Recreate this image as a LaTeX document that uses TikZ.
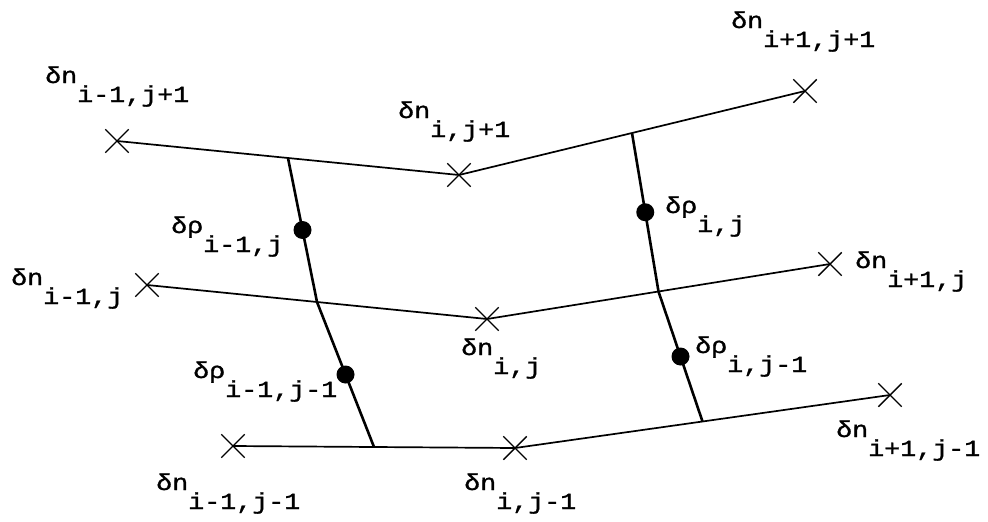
\documentclass[tikz,border=0pt]{standalone}
\usepackage{fontspec}
\newfontfamily\labfont[FakeStretch=1.16,FakeBold=1.2]{Liberation Mono}
\usetikzlibrary{shapes.misc,calc}
\tikzset{
  xmark/.style={cross out,draw,minimum size=22pt,inner sep=0pt,line width=1.4pt},
  rowline/.style={line width=1.7pt},
  colline/.style={line width=2.6pt},
  dotmark/.style={circle,fill=black,minimum size=18pt,inner sep=0pt},
  lab/.style={anchor=base west,inner sep=0pt,font=\labfont\fontsize{23}{27}\selectfont}
}
\newcommand{\sbx}[1]{\raisebox{-19pt}{#1}}
\begin{document}
\begin{tikzpicture}[x=1pt,y=-1pt]
\useasboundingbox (0,0) rectangle (988,522);
% crosses
\node[xmark] (a1) at (117,141) {};
\node[xmark] (a2) at (459,175) {};
\node[xmark] (a3) at (805,91) {};
\node[xmark] (b1) at (147,285) {};
\node[xmark] (b2) at (487,319) {};
\node[xmark] (b3) at (830,264) {};
\node[xmark] (c1) at (233,446) {};
\node[xmark] (c2) at (515,448) {};
\node[xmark] (c3) at (890,395) {};
% junctions
\coordinate (ja1) at ($(a1.center)!0.5!(a2.center)$);
\coordinate (ja2) at ($(a2.center)!0.5!(a3.center)$);
\coordinate (jb1) at ($(b1.center)!0.5!(b2.center)$);
\coordinate (jb2) at ($(b2.center)!0.5!(b3.center)$);
\coordinate (jc1) at ($(c1.center)!0.5!(c2.center)$);
\coordinate (jc2) at ($(c2.center)!0.5!(c3.center)$);
% row lines
\draw[rowline] (a1.center) -- (a2.center) -- (a3.center);
\draw[rowline] (b1.center) -- (b2.center) -- (b3.center);
\draw[rowline] (c1.center) -- (c2.center) -- (c3.center);
% column lines
\draw[colline] (ja1) -- (jb1) -- (jc1);
\draw[colline] (ja2) -- (jb2) -- (jc2);
% dots
\node[dotmark] (p1) at ($(ja1)!0.5!(jb1)$) {};
\node[dotmark] (p2) at ($(jb1)!0.5!(jc1)$) {};
\node[dotmark] (p3) at ($(ja2)!0.5!(jb2)$) {};
\node[dotmark] (p4) at ($(jb2)!0.5!(jc2)$) {};
% labels
\node[lab] (la1) at (45,83) {δn\sbx{i-1,j+1}};
\node[lab] (la2) at (398,118) {δn\sbx{i,j+1}};
\node[lab] (la3) at (731,28) {δn\sbx{i+1,j+1}};
\node[lab] (lb1) at (11,285) {δn\sbx{i-1,j}};
\node[lab] (lb2) at (461,355) {δn\sbx{i,j}};
\node[lab] (lb3) at (855,268) {δn\sbx{i+1,j}};
\node[lab] (lc1) at (156,490) {δn\sbx{i-1,j-1}};
\node[lab] (lc2) at (464,490) {δn\sbx{i,j-1}};
\node[lab] (lc3) at (836,437) {δn\sbx{i+1,j-1}};
\node[lab] (lp1) at (171,233) {δρ\sbx{i-1,j}};
\node[lab] (lp2) at (193,378) {δρ\sbx{i-1,j-1}};
\node[lab] (lp3) at (665,213) {δρ\sbx{i,j}};
\node[lab] (lp4) at (695,353) {δρ\sbx{i,j-1}};
\end{tikzpicture}
\end{document}
